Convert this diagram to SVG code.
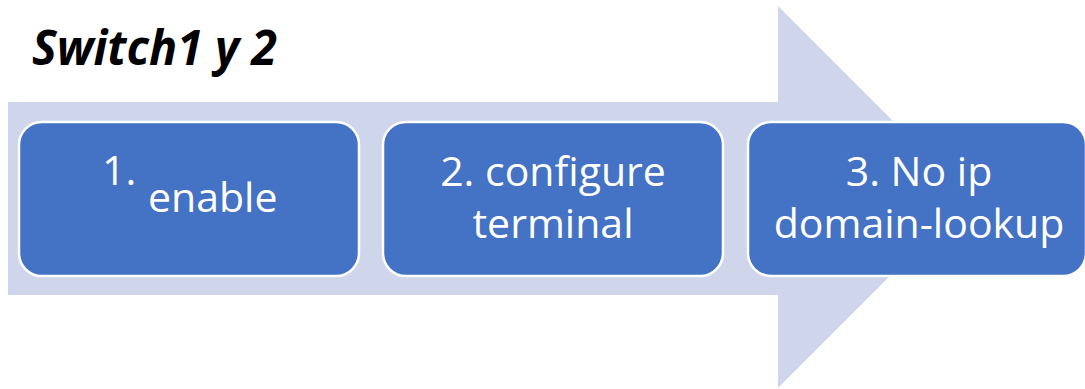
<svg xmlns="http://www.w3.org/2000/svg" width="1085" height="389" viewBox="0 0 1085 389">
  <style>
    .step { fill: #4472C4; stroke: #FFFFFF; stroke-width: 2.5; }
    .label { font-family: "Open Sans", "Liberation Sans", sans-serif; font-size: 41px; fill: #FFFFFF; }
    .title { font-family: "Open Sans", "Liberation Sans", sans-serif; font-size: 49px; font-weight: bold; font-style: italic; fill: #000000; }
  </style>
  <rect width="1085" height="389" fill="#FFFFFF"/>

  <!-- background process arrow -->
  <g id="connectors">
    <polygon points="8,102 778,102 778,6 969,197 778,388 778,295 8,295" fill="#CFD5EA"/>
  </g>

  <g id="title">
    <text class="title" x="32" y="65" textLength="245" lengthAdjust="spacingAndGlyphs">Switch1 y 2</text>
  </g>

  <g id="step1">
    <rect class="step" x="19" y="122" width="340" height="154" rx="23" ry="23"/>
    <text class="label" x="102" y="185">1.</text>
    <text class="label" x="148" y="212">enable</text>
  </g>

  <g id="step2">
    <rect class="step" x="383" y="122" width="340" height="154" rx="23" ry="23"/>
    <text class="label" x="553" y="186" text-anchor="middle">2. configure</text>
    <text class="label" x="553" y="238" text-anchor="middle">terminal</text>
  </g>

  <g id="step3">
    <rect class="step" x="748" y="122" width="338" height="154" rx="23" ry="23"/>
    <text class="label" x="919" y="186" text-anchor="middle">3. No ip</text>
    <text class="label" x="919" y="238" text-anchor="middle">domain-lookup</text>
  </g>
</svg>
